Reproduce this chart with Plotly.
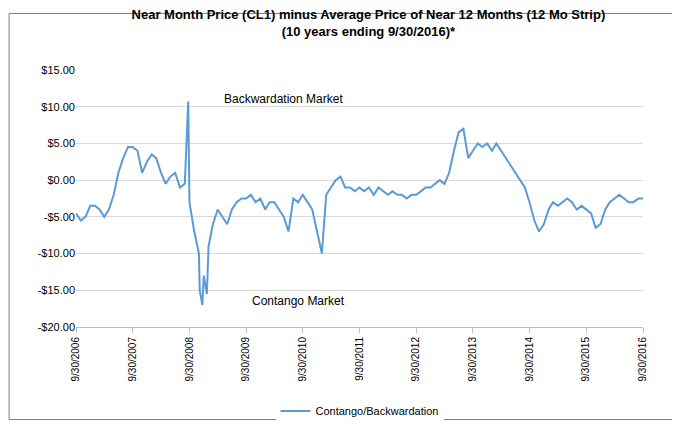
import plotly.graph_objects as go
import pandas as pd

# monthly readings, Oct 2006 .. Sep 2016 plus the final 9/30/2016 point
monthly_values = [
    -4.5, -5.5, -5, -3.5, -3.5, -4, -5, -4, -2, 1, 3, 4.5,
    4.5, 4, 1, 2.5, 3.5, 3, 1, -0.5, 0.5, 1, -1, -0.5,
    -3, -7, -10, -13, -9, -6, -4, -5, -6, -4, -3, -2.5,
    -2.5, -2, -3, -2.5, -4, -3, -3, -4, -5, -7, -2.5, -3,
    -2, -3, -4, -7, -10, -2, -1, 0, 0.5, -1, -1, -1.5,
    -1, -1.5, -1, -2, -1, -1.5, -2, -1.5, -2, -2, -2.5, -2,
    -2, -1.5, -1, -1, -0.5, 0, -0.5, 1, 4, 6.5, 7, 3,
    4, 5, 4.5, 5, 4, 5, 4, 3, 2, 1, 0, -1,
    -3, -5.5, -7, -6, -4, -3, -3.5, -3, -2.5, -3, -4, -3.5,
    -4, -4.5, -6.5, -6, -4, -3, -2.5, -2, -2.5, -3, -3, -2.5,
    -2.5,
]
spike_dates = ["2008-09-22", "2008-12-05", "2008-12-22", "2009-01-20"]
spike_values = [10.7, -15, -17, -15.5]

tick_dates = [f"{y}-09-30" for y in range(2006, 2017)]
tick_labels = [f"9/30/{y}" for y in range(2006, 2017)]
y_ticks = [15, 10, 5, 0, -5, -10, -15, -20]
y_labels = ["$15.00", "$10.00", "$5.00", "$0.00", "-$5.00", "-$10.00", "-$15.00", "-$20.00"]

dates = pd.date_range("2006-09-30", periods=len(monthly_values), freq="ME")
df = pd.DataFrame({"date": dates, "value": monthly_values})
df = pd.concat([df, pd.DataFrame({"date": pd.to_datetime(spike_dates), "value": spike_values})])
df = df.sort_values("date")

fig = go.Figure()
fig.add_trace(go.Scatter(
    x=df["date"], y=df["value"], mode="lines",
    line=dict(color="#5b9bd5", width=2),
    name="Contango/Backwardation",
))

fig.add_annotation(x="2010-06-01", y=11, text="Backwardation Market", showarrow=False,
                   font=dict(size=12, color="black"))
fig.add_annotation(x="2010-09-01", y=-16.5, text="Contango Market", showarrow=False,
                   font=dict(size=12, color="black"))

fig.add_shape(type="rect", xref="paper", yref="paper", x0=-0.118, x1=1.075, y0=-0.36, y1=1.22,
              line=dict(color="#7f7f7f", width=1))

fig.update_layout(
    title=dict(
        text="<b>Near Month Price (CL1) minus Average Price of Near 12 Months (12 Mo Strip)<br>(10 years ending 9/30/2016)*</b>",
        font=dict(size=13, color="black"), x=0.53, y=0.975, xanchor="center",
    ),
    xaxis=dict(
        tickvals=tick_dates, ticktext=tick_labels, tickangle=-90,
        range=["2006-09-30", "2016-09-30"], showgrid=False,
        showline=True, linecolor="#bfbfbf", ticks="outside", tickcolor="#bfbfbf",
        tickfont=dict(size=10),
    ),
    yaxis=dict(
        tickvals=y_ticks, ticktext=y_labels, range=[-20, 15],
        gridcolor="#d9d9d9", zeroline=False, tickfont=dict(size=11),
    ),
    showlegend=True,
    legend=dict(orientation="h", x=0.5, xanchor="center", y=-0.27, yanchor="top",
                font=dict(size=11)),
    plot_bgcolor="white", paper_bgcolor="white",
    width=680, height=430,
    margin=dict(l=68, r=45, t=62, b=98),
    font=dict(family="Liberation Sans, Arial", color="black"),
)

fig.write_html("out.html")
